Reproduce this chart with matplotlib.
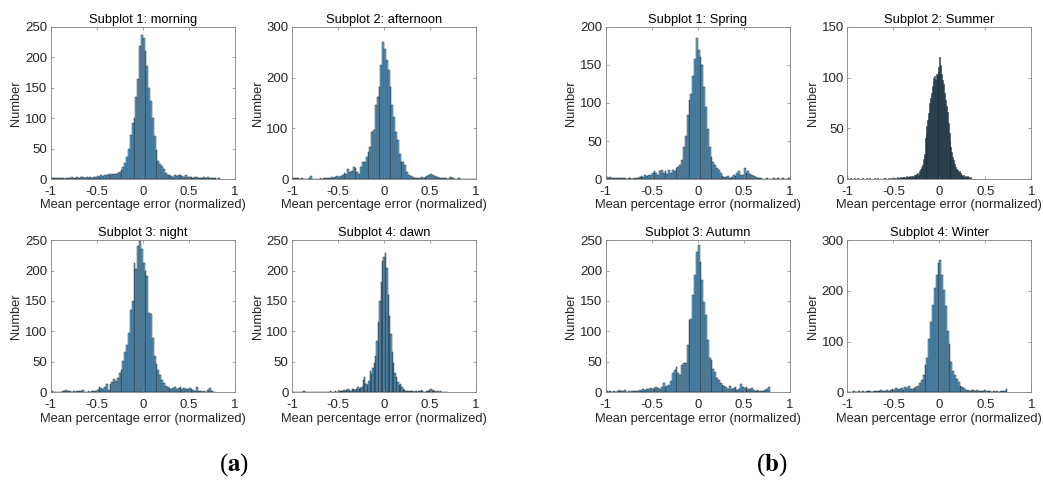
import numpy as np
import matplotlib
matplotlib.use('Agg')
import matplotlib.pyplot as plt

# bin counts (left tail + core + right tail)
morning_start, morning_width = -1.0, 0.02
morning_counts = ([1, 2, 1, 1, 2, 1, 1, 0, 1, 2, 1, 3, 2, 1, 3, 2, 4, 3, 2, 3,
                   2, 3, 2, 3, 4, 5, 4, 6, 5, 7, 6, 8, 7, 9, 8]
                  + [8, 10, 12, 15, 20, 27, 36, 50, 72, 92, 100, 135, 165, 218, 236,
                     232, 210, 185, 150, 128, 100, 70, 48, 30, 25, 22, 16, 10, 7, 6]
                  + [5, 4, 6, 5, 7, 6, 5, 4, 6, 3, 4, 3, 2, 4, 3, 2, 1, 2, 3, 1,
                     4, 2, 1, 2, 1, 0, 1])

afternoon_start, afternoon_width = -1.0, 0.02
afternoon_counts = ([3, 2, 3, 2, 1, 2, 1, 0, 1, 2, 6, 1, 0, 1, 1, 2, 1, 2, 3, 2,
                     3, 4, 3, 5, 6, 4, 7]
                    + [9, 12, 10, 20, 14, 16, 23, 21, 14, 11, 24, 34, 34, 44, 54, 64,
                       93, 96, 146, 162, 182, 224, 270, 257, 234, 214, 182, 146, 123,
                       93, 77, 50, 34, 34, 28, 14, 8, 6, 5, 3]
                    + [2, 3, 2, 4, 3, 5, 6, 8, 10, 9, 7, 5, 4, 3, 2, 3, 2, 1, 2, 4,
                       2, 1, 1, 2, 1, 1, 0, 1, 1, 0, 1, 0, 1])

night_start, night_width = -1.0, 0.02
night_counts = ([2, 1, 0, 1, 0, 1, 2, 3, 4, 3, 2, 1, 2, 1, 3, 2, 3, 4, 1, 1,
                 2, 1, 2, 3, 2, 4]
                + [9, 7, 6, 8, 13, 4, 13, 17, 22, 18, 24, 32, 37, 51, 67, 78, 98,
                   136, 150, 213, 202, 240, 249, 235, 213, 199, 191, 131, 128, 89,
                   59, 46, 37, 29, 21, 15, 11, 8, 7]
                + [6, 7, 8, 6, 7, 8, 6, 7, 5, 6, 7, 5, 4, 3, 8, 3, 2, 1, 2, 1,
                   4, 7, 2, 1, 1])

dawn_start, dawn_width = -0.9975, 0.015
dawn_counts = ([1, 0, 1, 0, 0, 1, 0, 0, 2, 1, 0, 0, 1, 0, 0, 0, 1, 0, 0, 1,
                0, 1, 0, 0, 1, 0, 1, 2, 1, 0, 1, 2, 1, 2, 3, 2, 3, 4, 3, 4,
                5, 4, 3, 6, 5, 4]
               + [5, 8, 6, 7, 9, 20, 25, 14, 12, 18, 35, 30, 40, 48, 60, 85, 115,
                  150, 182, 215, 222, 228, 205, 160, 125, 95, 66, 48, 32, 25, 17,
                  12, 14, 9, 6, 4, 3, 2, 3]
               + [2, 3, 2, 1, 2, 1, 3, 2, 4, 2, 1, 1, 2, 3, 4, 5, 3, 4, 2, 1,
                  2, 1, 2, 1, 1, 0, 1, 1])

spring_start, spring_width = -1.0, 0.02
spring_counts = ([3, 2, 3, 2, 1, 2, 2, 1, 2, 1, 1, 0, 2, 1, 0, 1, 1, 2, 3, 4,
                  3, 5, 4, 6, 5, 8, 10, 8, 6, 10, 12, 8, 10, 7, 12]
                 + [8, 12, 10, 14, 16, 18, 25, 42, 56, 84, 104, 112, 135, 158, 185,
                    169, 160, 150, 121, 95, 66, 42, 29, 22, 18, 15, 12, 8, 4, 3]
                 + [3, 4, 2, 3, 5, 4, 8, 10, 6, 5, 14, 8, 10, 7, 6, 4, 3, 2, 1, 1,
                    0, 0, 1, 0, 0, 0, 1, 0, 1, 0, 0, 1, 0, 0, 1])

summer_start, summer_width = -1.0, 0.01
summer_counts = ([1, 0, 0, 1, 0, 0, 0, 1, 0, 0, 0, 1, 0, 0, 0, 0, 1, 0, 0, 0,
                  1, 0, 0, 0, 1, 0, 0, 0, 0, 1, 0, 0, 1, 0, 0, 1, 0, 0, 0, 1,
                  0, 1, 0, 0, 1, 0, 1, 0, 1, 1, 0, 1, 1, 0, 2, 1, 1, 2, 1, 2,
                  1, 2, 2, 1, 3, 2, 2, 3, 2, 3, 3, 2, 4, 3, 4]
                 + [5, 6, 4, 8, 10, 12, 14, 20, 25, 40, 45, 52, 58, 65, 75, 80, 85,
                    92, 100, 102, 98, 104, 103, 106, 110, 120, 112, 104, 98, 94, 85,
                    78, 72, 66, 55, 45, 38, 32, 27, 22, 19, 15, 12, 10, 9, 7, 8, 6,
                    5, 4, 3, 4, 2, 3, 2, 3, 2, 1, 2])

autumn_start, autumn_width = -1.0, 0.02
autumn_counts = ([2, 1, 2, 1, 2, 1, 3, 4, 3, 2, 4, 1, 2, 1, 2, 3, 2, 3, 4, 3,
                  5, 4, 6, 5, 7, 6, 7, 8, 7, 6, 8, 16, 8, 10, 12]
                 + [18, 31, 37, 42, 31, 28, 45, 48, 48, 78, 119, 121, 160, 193, 231,
                    242, 214, 184, 149, 127, 86, 56, 53, 39, 34, 23, 20, 15, 12, 10]
                 + [8, 6, 10, 5, 7, 9, 4, 6, 14, 9, 7, 8, 6, 5, 7, 4, 3, 4, 2, 3,
                    2, 4, 6, 8])

winter_start, winter_width = -1.0, 0.02
winter_counts = ([1, 0, 1, 2, 1, 0, 2, 1, 3, 1, 2, 3, 2, 1, 3, 2, 3, 2, 4, 3,
                  2, 5, 3, 4, 6, 5, 8, 6, 7, 9, 5, 10, 8, 12, 7]
                 + [7, 9, 11, 12, 18, 24, 34, 54, 67, 106, 139, 172, 205, 231, 254,
                    260, 231, 202, 170, 120, 95, 60, 42, 34, 27, 20, 13, 10, 8, 5]
                 + [4, 3, 5, 4, 3, 5, 3, 2, 3, 4, 2, 3, 2, 1, 2, 1, 2, 1, 2, 2,
                    3, 6])

titles = ['Subplot 1: morning', 'Subplot 2: afternoon', 'Subplot 3: night',
          'Subplot 4: dawn', 'Subplot 1: Spring', 'Subplot 2: Summer',
          'Subplot 3: Autumn', 'Subplot 4: Winter']
ymax = [250, 300, 250, 250, 200, 150, 250, 300]
ystep = [50, 100, 50, 50, 50, 50, 50, 100]
x_ticks = [-1, -0.5, 0, 0.5, 1]
x_ticklabels = ['-1', '-0.5', '0', '0.5', '1']

hists = [(morning_start, morning_width, morning_counts),
         (afternoon_start, afternoon_width, afternoon_counts),
         (night_start, night_width, night_counts),
         (dawn_start, dawn_width, dawn_counts),
         (spring_start, spring_width, spring_counts),
         (summer_start, summer_width, summer_counts),
         (autumn_start, autumn_width, autumn_counts),
         (winter_start, winter_width, winter_counts)]

plt.rcParams['font.family'] = ['Liberation Sans', 'DejaVu Sans']
plt.rcParams['mathtext.fontset'] = 'stix'

fig = plt.figure(figsize=(10.43, 4.88), dpi=100)

lefts = [0.0486, 0.2800, 0.0486, 0.2800, 0.5807, 0.8124, 0.5807, 0.8124]
bottoms = [0.633, 0.633, 0.196, 0.196, 0.633, 0.633, 0.196, 0.196]
w, h = 0.1765, 0.312

face = (0.0, 0.447, 0.741, 0.6)
axcol = '#808080'
txtcol = '#262626'
fs = 9.3

for i, (start, bw, counts) in enumerate(hists):
    ax = fig.add_axes([lefts[i], bottoms[i], w, h])
    counts = np.asarray(counts, dtype=float)
    edges = start + bw * np.arange(len(counts) + 1)
    centers = edges[:-1] + bw / 2
    ax.hist(centers, bins=edges, weights=counts, facecolor=face,
            edgecolor='#1a1a1a', linewidth=0.3 if bw >= 0.015 else 0.4)
    ax.set_xlim(-1, 1)
    ax.set_ylim(0, ymax[i])
    ax.set_xticks(x_ticks)
    ax.set_xticklabels(x_ticklabels)
    ax.set_yticks(np.arange(0, ymax[i] + 1, ystep[i]))
    ax.tick_params(direction='in', top=True, right=True, length=2.5,
                   width=0.5, color=axcol, labelsize=9.5, labelcolor=txtcol)
    ax.tick_params(axis='x', pad=5)
    ax.tick_params(axis='y', pad=2.5)
    for s in ax.spines.values():
        s.set_color(axcol)
        s.set_linewidth(0.6)
    ax.set_title(titles[i], fontsize=fs, color='black', pad=3)
    ax.set_ylabel('Number', fontsize=fs, color=txtcol, labelpad=2)
    ax.set_xlabel('Mean percentage error (normalized)', fontsize=fs,
                  color=txtcol, labelpad=1)

fig.text(0.224, 0.047, r'($\mathbf{a}$)', fontsize=18, ha='center',
         va='center', family='Liberation Serif')
fig.text(0.740, 0.047, r'($\mathbf{b}$)', fontsize=18, ha='center',
         va='center', family='Liberation Serif')

fig.savefig('out.png', dpi=100)
